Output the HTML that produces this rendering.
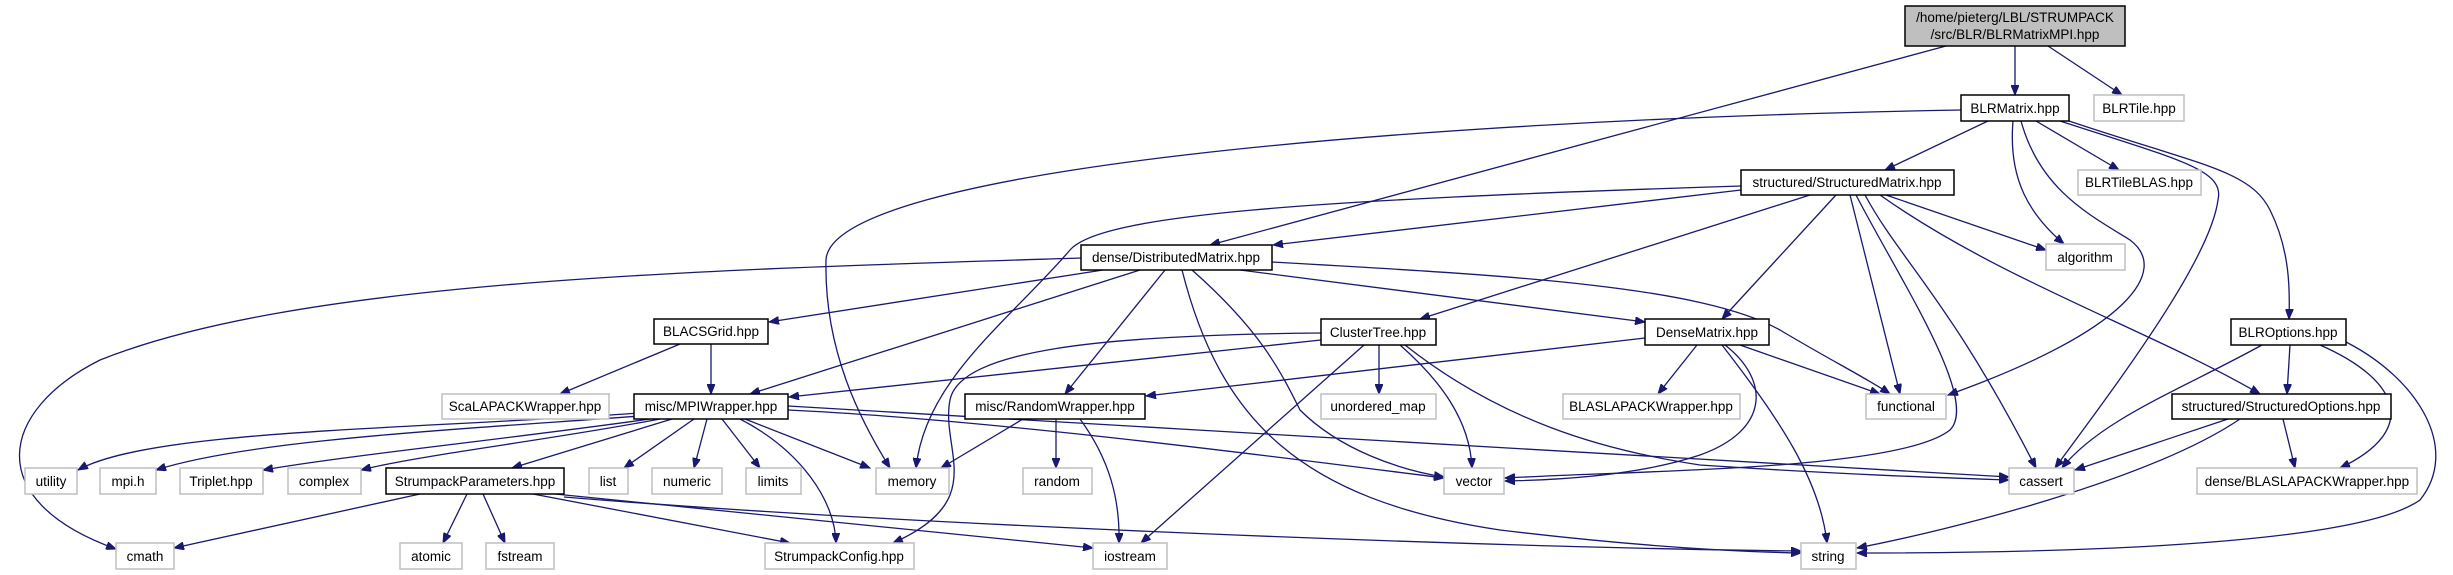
<!DOCTYPE html>
<html><head><meta charset="utf-8"><style>
html,body{margin:0;padding:0;background:#fff;}
svg{display:block;}
text{font-family:"Liberation Sans",sans-serif;font-size:13.5px;fill:#000;text-anchor:middle;}
.e{fill:none;stroke:#191970;stroke-width:1.3;marker-end:url(#a);}
.n{fill:#fff;stroke:#000;stroke-width:1.5;}
.x{fill:#fff;stroke:#bfbfbf;stroke-width:1.5;}
</style></head><body>
<svg width="2453" height="575" viewBox="0 0 2453 575" xmlns="http://www.w3.org/2000/svg">
<defs><marker id="a" markerWidth="11" markerHeight="8" refX="10" refY="4" orient="auto" markerUnits="userSpaceOnUse"><path d="M0,0 L10,4 L0,8 z" fill="#191970" stroke="#191970"/></marker></defs>
<g>
<path class="e" d="M2015,46 L2015,95"/>
<path class="e" d="M2048,46 L2122,95"/>
<path class="e" d="M1946,46 L1210,245"/>
<path class="e" d="M1988,121 L1885,170"/>
<path class="e" d="M2036,121 L2119,170"/>
<path class="e" d="M2013,121 C2008,180 2030,215 2064,244"/>
<path class="e" d="M2021,121 C2040,190 2090,215 2130,240 C2170,270 2130,330 1948,395"/>
<path class="e" d="M2060,121 C2180,160 2225,170 2218,200 C2210,260 2120,380 2055,468"/>
<path class="e" d="M2069,121 C2200,165 2250,170 2270,210 C2290,250 2290,290 2289,319"/>
<path class="e" d="M1961,110 C1400,120 830,170 826,260 C824,350 860,420 890,468"/>
<path class="e" d="M1741,190 L1273,245"/>
<path class="e" d="M1741,186 C1300,200 1100,215 1070,250 C1010,320 925,380 916,468"/>
<path class="e" d="M1810,195 L1420,319"/>
<path class="e" d="M1836,195 L1722,319"/>
<path class="e" d="M1850,195 L1900,394"/>
<path class="e" d="M1856,195 C1900,280 1980,400 1950,430 C1900,470 1650,470 1505,478"/>
<path class="e" d="M1865,195 C1900,260 1950,300 2036,468"/>
<path class="e" d="M1880,195 C2000,280 2150,330 2260,394"/>
<path class="e" d="M1886,195 L2046,250"/>
<path class="e" d="M1081,258 C700,270 300,280 100,360 C0,410 -20,500 116,549"/>
<path class="e" d="M1103,270 L769,322"/>
<path class="e" d="M1140,270 L750,394"/>
<path class="e" d="M1165,270 L1065,394"/>
<path class="e" d="M1182,270 C1220,420 1300,500 1500,530 C1650,548 1750,552 1801,553"/>
<path class="e" d="M1192,270 C1260,330 1280,370 1300,410 C1340,450 1400,470 1444,477"/>
<path class="e" d="M1240,270 L1645,322"/>
<path class="e" d="M1272,262 C1500,275 1700,285 1780,330 C1830,360 1870,380 1890,394"/>
<path class="e" d="M680,344 L560,394"/>
<path class="e" d="M711,344 L711,394"/>
<path class="e" d="M1321,340 L789,397"/>
<path class="e" d="M1321,333 C1100,335 960,350 950,400 C940,450 990,500 893,543"/>
<path class="e" d="M1379,345 L1379,394"/>
<path class="e" d="M1400,345 C1440,380 1470,420 1472,468"/>
<path class="e" d="M1364,345 L1141,543"/>
<path class="e" d="M1405,345 C1500,420 1600,450 1700,465 C1850,475 1950,478 2009,480"/>
<path class="e" d="M1645,338 L1146,396"/>
<path class="e" d="M1697,345 L1658,394"/>
<path class="e" d="M1740,345 L1880,394"/>
<path class="e" d="M1725,345 C1770,380 1770,430 1700,455 C1640,475 1560,480 1505,481"/>
<path class="e" d="M1722,345 C1780,420 1820,480 1827,543"/>
<path class="e" d="M640,413 C400,430 150,430 78,470"/>
<path class="e" d="M640,416 C450,430 250,440 156,470"/>
<path class="e" d="M650,419 C500,440 350,455 263,470"/>
<path class="e" d="M660,419 C550,440 420,455 361,470"/>
<path class="e" d="M672,419 L512,468"/>
<path class="e" d="M694,419 L624,468"/>
<path class="e" d="M707,419 L694,468"/>
<path class="e" d="M722,419 L760,468"/>
<path class="e" d="M745,419 L870,468"/>
<path class="e" d="M740,419 C800,450 835,500 836,543"/>
<path class="e" d="M788,410 C1000,420 1300,460 1444,478"/>
<path class="e" d="M788,406 C1200,430 1700,460 2009,477"/>
<path class="e" d="M1023,419 L941,468"/>
<path class="e" d="M1056,419 L1056,468"/>
<path class="e" d="M1080,419 C1110,460 1120,500 1119,543"/>
<path class="e" d="M420,494 L174,548"/>
<path class="e" d="M467,494 L443,543"/>
<path class="e" d="M483,494 L505,543"/>
<path class="e" d="M533,494 L790,543"/>
<path class="e" d="M555,494 L1093,548"/>
<path class="e" d="M564,497 C900,525 1500,548 1801,551"/>
<path class="e" d="M2262,345 C2180,390 2100,420 2062,468"/>
<path class="e" d="M2290,345 L2287,394"/>
<path class="e" d="M2320,345 C2400,380 2420,430 2340,468"/>
<path class="e" d="M2346,342 C2420,380 2460,450 2420,500 C2350,550 2000,553 1857,553"/>
<path class="e" d="M2228,419 L2075,470"/>
<path class="e" d="M2240,419 C2150,480 1950,530 1857,548"/>
<path class="e" d="M2283,419 L2295,468"/>
</g>
<g>
<rect x="1905" y="6" width="220" height="40" fill="#bfbfbf" stroke="#000" stroke-width="1.5"/>
<text x="2015" y="22">/home/pieterg/LBL/STRUMPACK</text>
<text x="2015" y="39">/src/BLR/BLRMatrixMPI.hpp</text>
<rect class="n" x="1961" y="95" width="108" height="26"/><text x="2015" y="113">BLRMatrix.hpp</text>
<rect class="x" x="2094" y="95" width="90" height="26"/><text x="2139" y="113">BLRTile.hpp</text>
<rect class="n" x="1741" y="170" width="213" height="25"/><text x="1847" y="187">structured/StructuredMatrix.hpp</text>
<rect class="x" x="2078" y="170" width="123" height="25"/><text x="2139" y="187">BLRTileBLAS.hpp</text>
<rect class="n" x="1081" y="245" width="191" height="25"/><text x="1176" y="262">dense/DistributedMatrix.hpp</text>
<rect class="x" x="2046" y="244" width="79" height="26"/><text x="2085" y="262">algorithm</text>
<rect class="n" x="654" y="319" width="114" height="25"/><text x="711" y="336">BLACSGrid.hpp</text>
<rect class="n" x="1321" y="319" width="115" height="26"/><text x="1378" y="337">ClusterTree.hpp</text>
<rect class="n" x="1645" y="319" width="124" height="26"/><text x="1707" y="337">DenseMatrix.hpp</text>
<rect class="n" x="2231" y="319" width="115" height="26"/><text x="2288" y="337">BLROptions.hpp</text>
<rect class="x" x="442" y="394" width="167" height="25"/><text x="525" y="411">ScaLAPACKWrapper.hpp</text>
<rect class="n" x="634" y="394" width="154" height="25"/><text x="711" y="411">misc/MPIWrapper.hpp</text>
<rect class="n" x="965" y="394" width="180" height="25"/><text x="1055" y="411">misc/RandomWrapper.hpp</text>
<rect class="x" x="1321" y="394" width="115" height="25"/><text x="1378" y="411">unordered_map</text>
<rect class="x" x="1563" y="394" width="177" height="25"/><text x="1651" y="411">BLASLAPACKWrapper.hpp</text>
<rect class="x" x="1866" y="394" width="80" height="25"/><text x="1906" y="411">functional</text>
<rect class="n" x="2172" y="394" width="219" height="25"/><text x="2281" y="411">structured/StructuredOptions.hpp</text>
<rect class="x" x="25" y="468" width="52" height="26"/><text x="51" y="486">utility</text>
<rect class="x" x="100" y="468" width="56" height="26"/><text x="128" y="486">mpi.h</text>
<rect class="x" x="180" y="468" width="83" height="26"/><text x="221" y="486">Triplet.hpp</text>
<rect class="x" x="288" y="468" width="73" height="26"/><text x="324" y="486">complex</text>
<rect class="n" x="386" y="468" width="178" height="26"/><text x="475" y="486">StrumpackParameters.hpp</text>
<rect class="x" x="589" y="468" width="39" height="26"/><text x="608" y="486">list</text>
<rect class="x" x="652" y="468" width="70" height="26"/><text x="687" y="486">numeric</text>
<rect class="x" x="746" y="468" width="55" height="26"/><text x="773" y="486">limits</text>
<rect class="x" x="876" y="468" width="73" height="26"/><text x="912" y="486">memory</text>
<rect class="x" x="1023" y="468" width="69" height="26"/><text x="1057" y="486">random</text>
<rect class="x" x="1444" y="468" width="60" height="26"/><text x="1474" y="486">vector</text>
<rect class="x" x="2009" y="468" width="65" height="26"/><text x="2041" y="486">cassert</text>
<rect class="x" x="2197" y="468" width="220" height="26"/><text x="2307" y="486">dense/BLASLAPACKWrapper.hpp</text>
<rect class="x" x="116" y="543" width="58" height="26"/><text x="145" y="561">cmath</text>
<rect class="x" x="400" y="543" width="62" height="26"/><text x="431" y="561">atomic</text>
<rect class="x" x="486" y="543" width="68" height="26"/><text x="520" y="561">fstream</text>
<rect class="x" x="765" y="543" width="149" height="26"/><text x="839" y="561">StrumpackConfig.hpp</text>
<rect class="x" x="1093" y="543" width="74" height="26"/><text x="1130" y="561">iostream</text>
<rect class="x" x="1801" y="543" width="55" height="26"/><text x="1828" y="561">string</text>
</g>
</svg>
</body></html>
